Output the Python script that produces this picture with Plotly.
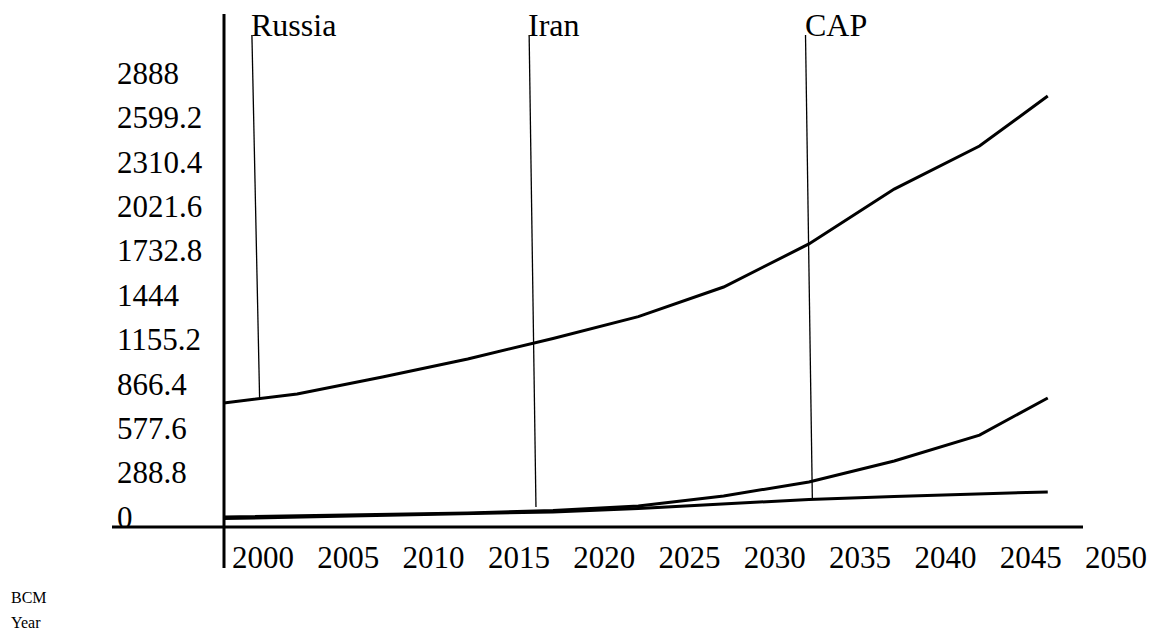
import plotly.graph_objects as go

# ---- data ----
years = [1997.7, 2002, 2007, 2012, 2017, 2022, 2027, 2032, 2037, 2042, 2046]
russia = [807, 865, 976, 1093, 1226, 1368, 1561, 1841, 2198, 2478, 2803]
iran = [65, 72, 81, 91, 107, 137, 202, 293, 429, 598, 839]
cap = [55, 65, 75, 85, 98, 120, 150, 179, 199, 215, 228]

series_names = ["Russia", "Iran", "CAP"]
# leader lines: (label-top year, label-top value, curve-point year, curve-point value)
leader_top_year = [1999.35, 2015.6, 2031.8]
leader_top_val = [3200, 3200, 3200]
leader_end_year = [1999.8, 2016.0, 2032.2]
leader_end_val = [839, 130, 188]

x_ticks = [2000, 2005, 2010, 2015, 2020, 2025, 2030, 2035, 2040, 2045, 2050]
y_ticks = [0, 288.8, 577.6, 866.4, 1155.2, 1444, 1732.8, 2021.6, 2310.4, 2599.2, 2888]
y_tick_text = ["0", "288.8", "577.6", "866.4", "1155.2", "1444", "1732.8",
               "2021.6", "2310.4", "2599.2", "2888"]

y_title = "BCM"
x_title = "Year"

# ---- layout geometry ----
W, H = 1158, 644
L, R, T, B = 112, 1120, 0, 527          # plot area in pixels
PX_PER_YEAR = 17.06
X_CENTER_2000 = 263
PX_PER_UNIT = 0.15374


def year_at(px):
    return 2000 + (px - X_CENTER_2000) / PX_PER_YEAR


x_range = [year_at(L), year_at(R)]
y_range = [0, (B - T) / PX_PER_UNIT]


def paper_x(px):
    return (px - L) / (R - L)


def paper_y(py):
    return (B - py) / (B - T)


FONT = "Liberation Serif, Times New Roman, serif"

fig = go.Figure()
for name, vals in zip(series_names, [russia, iran, cap]):
    fig.add_trace(go.Scatter(x=years, y=vals, mode="lines", name=name,
                             line=dict(color="black", width=3),
                             showlegend=False, hoverinfo="x+y+name"))

# leader lines + labels
for i, name in enumerate(series_names):
    fig.add_shape(type="line", xref="x", yref="y",
                  x0=leader_top_year[i], y0=leader_top_val[i],
                  x1=leader_end_year[i], y1=leader_end_val[i],
                  line=dict(color="black", width=1.3))
    fig.add_annotation(x=leader_top_year[i], y=leader_top_val[i], xref="x", yref="y",
                       text=name, showarrow=False, xanchor="left", yanchor="bottom",
                       xshift=-3, yshift=-10,
                       font=dict(family=FONT, size=32, color="black"))

# axis lines (crossing style)
fig.add_shape(type="line", xref="paper", yref="paper",
              x0=paper_x(112), x1=paper_x(1083), y0=paper_y(527), y1=paper_y(527),
              line=dict(color="black", width=3))
fig.add_shape(type="line", xref="paper", yref="paper",
              x0=paper_x(224), x1=paper_x(224), y0=paper_y(568), y1=paper_y(14),
              line=dict(color="black", width=3))

# axis titles
fig.add_annotation(xref="paper", yref="paper", x=paper_x(9), y=paper_y(597),
                   text=y_title, showarrow=False, xanchor="left", yanchor="middle",
                   font=dict(family=FONT, size=16, color="black"))
fig.add_annotation(xref="paper", yref="paper", x=paper_x(9), y=paper_y(622),
                   text=x_title, showarrow=False, xanchor="left", yanchor="middle",
                   font=dict(family=FONT, size=16, color="black"))

fig.update_layout(
    width=W, height=H,
    margin=dict(l=L, r=W - R, t=T, b=H - B, pad=0),
    paper_bgcolor="white", plot_bgcolor="white",
    xaxis=dict(range=x_range, tickvals=x_ticks, showgrid=False, zeroline=False,
               showline=False, ticks="", ticklabelstandoff=9,
               tickfont=dict(family=FONT, size=31, color="black")),
    yaxis=dict(range=y_range, tickvals=y_ticks, ticktext=y_tick_text,
               showgrid=False, zeroline=False, showline=False, ticks="",
               ticklabelposition="inside", ticklabelstandoff=2,
               ticklabelshift=-10, ticklabeloverflow="allow",
               tickfont=dict(family=FONT, size=31, color="black")),
)

fig.write_html("out.html", config={"displayModeBar": False},
               post_script="document.body.style.margin='0';document.body.style.padding='0';")
